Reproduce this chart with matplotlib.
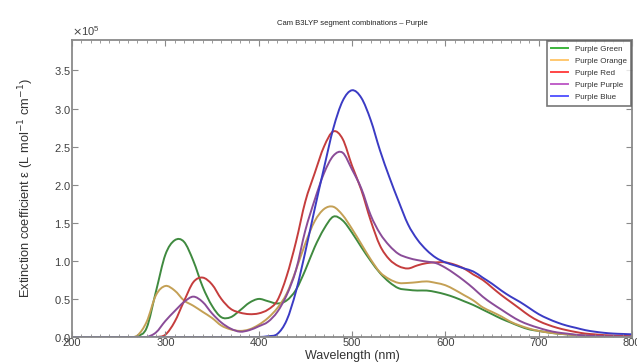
import numpy as np
import matplotlib
matplotlib.use("Agg")
import matplotlib.pyplot as plt
from matplotlib.lines import Line2D
from matplotlib.path import Path
from matplotlib.patches import PathPatch
from matplotlib.ticker import MultipleLocator, ScalarFormatter

plt.rcParams['font.family'] = ['Liberation Sans', 'DejaVu Sans']

# Wavelength grid (nm) and computed extinction coefficients (units of 1e5 L mol^-1 cm^-1)
wavelength = list(range(200, 801, 10))

purple_green = [0, 0, 0, 0, 0, 0, 0, 0.01, 0.12, 0.60,
                1.08, 1.27, 1.25, 1.00, 0.66, 0.41, 0.26, 0.26, 0.35, 0.45,
                0.50, 0.47, 0.44, 0.48, 0.62, 0.88, 1.18, 1.42, 1.58, 1.53,
                1.37, 1.18, 1.00, 0.84, 0.72, 0.64, 0.62, 0.61, 0.61, 0.59,
                0.56, 0.52, 0.47, 0.42, 0.36, 0.30, 0.24, 0.19, 0.14, 0.10,
                0.08, 0.06, 0.045, 0.035, 0.025, 0.018, 0.012, 0.008, 0.005, 0.003,
                0.002]

purple_orange = [0, 0, 0, 0, 0, 0, 0, 0.02, 0.20, 0.55,
                 0.67, 0.61, 0.48, 0.41, 0.33, 0.25, 0.15, 0.10, 0.08, 0.10,
                 0.16, 0.25, 0.38, 0.57, 0.88, 1.23, 1.52, 1.68, 1.71, 1.60,
                 1.42, 1.22, 1.02, 0.85, 0.76, 0.71, 0.71, 0.72, 0.73, 0.71,
                 0.68, 0.62, 0.55, 0.48, 0.39, 0.33, 0.27, 0.20, 0.15, 0.11,
                 0.08, 0.06, 0.045, 0.035, 0.025, 0.018, 0.012, 0.008, 0.005, 0.003,
                 0.002]

purple_red = [0, 0, 0, 0, 0, 0, 0, 0, 0, 0,
              0.03, 0.20, 0.47, 0.72, 0.78, 0.69, 0.50, 0.37, 0.32, 0.30,
              0.31, 0.36, 0.48, 0.80, 1.25, 1.78, 2.15, 2.50, 2.70, 2.60,
              2.25, 1.93, 1.53, 1.20, 1.02, 0.93, 0.90, 0.94, 0.97, 0.98,
              0.98, 0.95, 0.90, 0.82, 0.75, 0.65, 0.55, 0.46, 0.37, 0.28,
              0.21, 0.16, 0.12, 0.09, 0.065, 0.045, 0.035, 0.025, 0.02, 0.015,
              0.01]

purple_purple = [0, 0, 0, 0, 0, 0, 0, 0, 0, 0.06,
                 0.21, 0.34, 0.46, 0.53, 0.46, 0.31, 0.19, 0.11, 0.07, 0.09,
                 0.14, 0.20, 0.33, 0.55, 0.88, 1.40, 1.80, 2.15, 2.38, 2.42,
                 2.20, 1.95, 1.60, 1.36, 1.20, 1.09, 1.04, 1.01, 0.99, 0.97,
                 0.91, 0.83, 0.74, 0.64, 0.53, 0.44, 0.36, 0.28, 0.21, 0.16,
                 0.12, 0.085, 0.06, 0.045, 0.03, 0.02, 0.015, 0.01, 0.007, 0.005,
                 0.003]

purple_blue = [0, 0, 0, 0, 0, 0, 0, 0, 0, 0,
               0, 0, 0, 0, 0, 0, 0, 0, 0, 0,
               0, 0.01, 0.04, 0.22, 0.60, 1.12, 1.68, 2.22, 2.74, 3.10,
               3.24, 3.14, 2.85, 2.45, 2.10, 1.78, 1.48, 1.28, 1.14, 1.04,
               0.98, 0.94, 0.90, 0.86, 0.78, 0.70, 0.61, 0.53, 0.46, 0.38,
               0.30, 0.24, 0.19, 0.15, 0.12, 0.09, 0.07, 0.055, 0.045, 0.04,
               0.035]

EXT_SCALE = 1e5

series_labels = ["Purple Green", "Purple Orange", "Purple Red", "Purple Purple", "Purple Blue"]
series_values = [purple_green, purple_orange, purple_red, purple_purple, purple_blue]
line_colors = ["#3f8a3f", "#c4a055", "#c53d3d", "#8a4c98", "#3b3bc4"]
legend_colors = ["#3cb43c", "#ffc870", "#ff4545", "#c060c8", "#5a5aff"]


def smooth_path(x, y):
    """Catmull-Rom curve through every (x, y) sample, as a cubic Bezier path."""
    x = np.asarray(x, float)
    y = np.asarray(y, float)
    h = np.diff(x)
    m = np.gradient(y, x)
    verts = [(x[0], y[0])]
    codes = [Path.MOVETO]
    for i in range(len(x) - 1):
        verts += [(x[i] + h[i] / 3, y[i] + m[i] * h[i] / 3),
                  (x[i + 1] - h[i] / 3, y[i + 1] - m[i + 1] * h[i] / 3),
                  (x[i + 1], y[i + 1])]
        codes += [Path.CURVE4] * 3
    return Path(verts, codes)


fig = plt.figure(figsize=(6.37, 3.62), dpi=100)
ax = fig.add_axes([72 / 637, 25 / 362, 560 / 637, 297 / 362])

wl = np.array(wavelength)
for vals, col in zip(series_values, line_colors):
    p = smooth_path(wl, np.array(vals) * EXT_SCALE)
    ax.add_patch(PathPatch(p, fill=False, edgecolor=col, lw=1.4,
                           capstyle='round', joinstyle='round'))

ax.set_xlim(200, 800)
ax.set_ylim(0, 3.9e5)
ax.xaxis.set_major_locator(MultipleLocator(100))
ax.xaxis.set_minor_locator(MultipleLocator(10))
ax.yaxis.set_major_locator(MultipleLocator(0.5e5))

fmt = ScalarFormatter(useMathText=True)
fmt.set_powerlimits((0, 0))
ax.yaxis.set_major_formatter(fmt)
ax.yaxis.get_offset_text().set_fontsize(8)
ax.yaxis.get_offset_text().set_color('#404040')

spine_col = '#8a8a8a'
for s in ax.spines.values():
    s.set_color(spine_col)
    s.set_linewidth(1.3)

ax.tick_params(axis='both', which='both', direction='in', top=True, right=True,
               colors=spine_col, labelcolor='#404040', labelsize=8)
ax.tick_params(axis='both', which='major', length=4, width=0.8)
ax.tick_params(axis='both', which='minor', length=2.5, width=0.6)
ax.tick_params(axis='x', which='major', pad=0.5)
ax.tick_params(axis='y', which='major', pad=1)

ax.set_xlabel("Wavelength (nm)", fontsize=9, color='#333333', labelpad=1.5)
ax.set_ylabel("Extinction coefficient \u03b5 (L mol$^{-1}$ cm$^{-1}$)", fontsize=9.3,
              color='#333333', labelpad=13)
ax.set_title("Cam B3LYP segment combinations \u2013 Purple", fontsize=5.5,
             color='#222222', pad=11)

handles = [Line2D([], [], color=c, lw=1.4) for c in legend_colors]
leg = ax.legend(handles, series_labels, loc='upper right', fontsize=5.8,
                frameon=True, fancybox=False, borderaxespad=0.1,
                handlelength=2.0, handletextpad=0.9, labelspacing=0.55,
                borderpad=0.55)
leg.get_frame().set_edgecolor('#555555')
leg.get_frame().set_linewidth(1.2)
for t in leg.get_texts():
    t.set_color('#333333')

fig.savefig("out.png", dpi=100)
